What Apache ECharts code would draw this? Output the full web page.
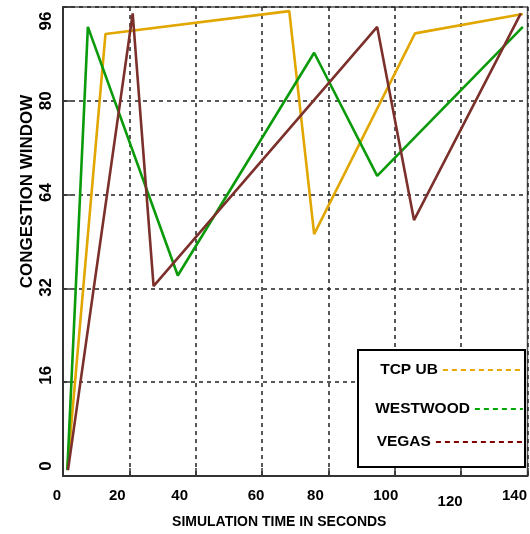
<!DOCTYPE html>
<html><head><meta charset="utf-8">
<script src="https://cdn.jsdelivr.net/npm/echarts@6/dist/echarts.min.js"></script>
<style>html,body{margin:0;padding:0;background:#fff}#c{width:530px;height:534px}</style>
</head><body><div id="c"></div>
<script>
// Tick labels (y axis is evenly spaced labels, not linear)
const yTickLabels = [0, 16, 32, 64, 80, 96];
const xTickLabels = [0, 20, 40, 60, 80, 100, 120, 140];
const seriesNames = ['TCP UB', 'WESTWOOD', 'VEGAS'];
// Series values: time (s) and congestion window
const tcpX = [1.3, 12.8, 68.2, 75.7, 106.1, 138.6];
const tcpY = [1, 91.4, 95.3, 50.5, 91.5, 94.8];
const westX = [1.3, 7.5, 34.6, 75.7, 94.7, 138.6];
const westY = [1, 92.6, 36.4, 88.2, 67.2, 92.6];
const vegasX = [1.5, 21.0, 27.3, 94.7, 105.8, 138.0];
const vegasY = [1, 94.9, 32.8, 92.6, 55.3, 94.9];

const FONT = "'Liberation Sans', Arial, sans-serif";
// map congestion window value to evenly spaced label position
function toPos(w) {
  for (let i = 0; i < yTickLabels.length - 1; i++) {
    const a = yTickLabels[i], b = yTickLabels[i + 1];
    if (w <= b || i === yTickLabels.length - 2) return i + (w - a) / (b - a);
  }
}
function pts(xs, ys) { return xs.map((x, i) => [x, toPos(ys[i])]); }

const colors = ['#E2A600', '#0A9A0A', '#7B302B'];
const legendColors = ['#E8A800', '#00A800', '#800000'];

// label offsets (purely visual)
const yRich = {}, yPad = [[0,0,0,20],[0,0,0,14],[0,0,0,2],[0,0,0,4],[0,0,0,0],[0,28,0,0]];
yPad.forEach((p, i) => yRich['r' + i] = {padding: p, fontSize: 17, fontWeight: 'bold', fontFamily: FONT, color: '#000'});
const xRich = {}, xOff = [-6, -12, -16, -6, -13, -9, -11, -13];
xTickLabels.forEach((v, i) => xRich['x' + i] = {padding: [v === 120 ? 6 : 0, -2 * xOff[i], 0, 0], fontSize: 15, fontWeight: 'bold', fontFamily: FONT, color: '#000'});

const legendRight = 6;
const legendTops = [362, 401, 434];
const legendWidths = [80, 48, 87];

const chart = echarts.init(document.getElementById('c'));
chart.setOption({
  animation: false,
  backgroundColor: '#fff',
  grid: {left: 63, right: 2, top: 7, bottom: 58, show: true, borderColor: '#555', borderWidth: 1.5, backgroundColor: 'transparent'},
  xAxis: {
    type: 'value', min: 0, max: 140, interval: 20,
    name: 'SIMULATION TIME IN SECONDS', nameLocation: 'middle', nameGap: 39, nameMoveOverlap: false,
    nameTextStyle: {fontSize: 14, fontWeight: 'bold', fontFamily: FONT, color: '#000', padding: [0, 32, 0, 0]},
    axisLine: {lineStyle: {color: '#333', width: 2}},
    axisTick: {inside: true, length: 8, lineStyle: {color: '#333', width: 1.5}},
    axisLabel: {margin: 12, formatter: v => '{x' + xTickLabels.indexOf(v) + '|' + v + '}', rich: xRich},
    splitLine: {show: true, lineStyle: {color: '#222', width: 1.5, type: [4, 4]}}
  },
  yAxis: {
    type: 'value', min: 0, max: 5, interval: 1,
    name: 'CONGESTION WINDOW', nameLocation: 'middle', nameGap: 27, nameRotate: 90, nameMoveOverlap: false,
    nameTextStyle: {fontSize: 17, fontWeight: 'bold', fontFamily: FONT, color: '#000', padding: [0, 0, 0, 100]},
    axisLine: {show: true, lineStyle: {color: '#333', width: 2}},
    axisTick: {show: true, inside: true, length: 8, lineStyle: {color: '#333', width: 1.5}},
    axisLabel: {rotate: 90, margin: 8, formatter: v => '{r' + v + '|' + yTickLabels[v] + '}', rich: yRich},
    splitLine: {show: true, lineStyle: {color: '#222', width: 1.5, type: [4, 4]}}
  },
  legend: seriesNames.map((n, i) => ({
    data: [n], right: legendRight, top: legendTops[i], align: 'right', orient: 'horizontal',
    itemWidth: legendWidths[i], itemHeight: 14, z: 10, padding: 0,
    textStyle: {fontSize: 15.5, fontWeight: 'bold', fontFamily: FONT, color: '#000'},
    lineStyle: {type: [5, 4], width: 2.2, color: legendColors[i]},
    itemStyle: {color: 'transparent', borderColor: 'transparent', borderWidth: 0}
  })),
  graphic: [{
    type: 'rect', z: 8, shape: {x: 358, y: 350, width: 167, height: 117},
    style: {fill: '#fff', stroke: '#000', lineWidth: 2}
  }],
  series: [
    {name: seriesNames[0], type: 'line', data: pts(tcpX, tcpY), symbol: 'none', lineStyle: {color: colors[0], width: 2.6}, itemStyle: {color: colors[0]}},
    {name: seriesNames[1], type: 'line', data: pts(westX, westY), symbol: 'none', lineStyle: {color: colors[1], width: 2.6}, itemStyle: {color: colors[1]}},
    {name: seriesNames[2], type: 'line', data: pts(vegasX, vegasY), symbol: 'none', lineStyle: {color: colors[2], width: 2.6}, itemStyle: {color: colors[2]}}
  ]
});
</script></body></html>
